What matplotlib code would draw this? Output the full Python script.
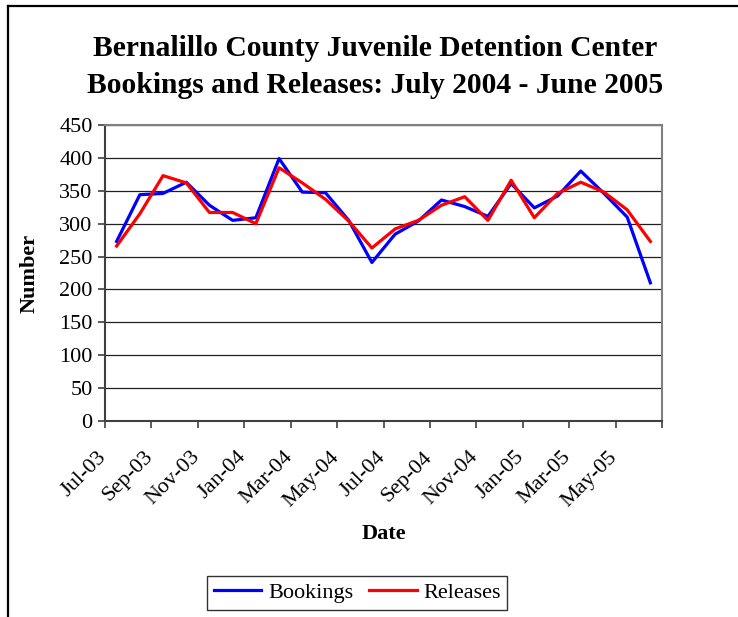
import matplotlib
matplotlib.use("Agg")
import matplotlib.pyplot as plt
import matplotlib.transforms as mtransforms
import numpy as np
from matplotlib.lines import Line2D

plt.rcParams["font.family"] = ["Liberation Serif", "DejaVu Serif"]

months = ["Jul-03", "Aug-03", "Sep-03", "Oct-03", "Nov-03", "Dec-03",
          "Jan-04", "Feb-04", "Mar-04", "Apr-04", "May-04", "Jun-04",
          "Jul-04", "Aug-04", "Sep-04", "Oct-04", "Nov-04", "Dec-04",
          "Jan-05", "Feb-05", "Mar-05", "Apr-05", "May-05", "Jun-05"]
bookings = [273, 344, 346, 363, 328, 305, 309, 399, 348, 347, 305, 241,
            284, 304, 336, 326, 311, 361, 324, 342, 380, 346, 310, 210]
releases = [266, 315, 373, 362, 317, 317, 300, 385, 362, 337, 304, 263,
            292, 305, 328, 341, 305, 366, 309, 346, 363, 348, 321, 273]
yticks = np.arange(0, 451, 50)

fig = plt.figure(figsize=(7.38, 6.17), dpi=100)
ax = fig.add_axes([0.1423, 0.3177, 0.7547, 0.4797])

# category axis: one slot per month, points in the middle of the slot
xpos = np.arange(len(months)) + 0.5
ax.plot(xpos, bookings, color="#0000FF", lw=2.3, label="Bookings", zorder=3)
ax.plot(xpos, releases, color="#FF0000", lw=2.3, label="Releases", zorder=4)

ax.set_xlim(0, len(months))
ax.set_ylim(0, 450)
ax.set_yticks(yticks)
ax.set_yticklabels([str(v) for v in yticks], fontsize=16)
ax.set_xticks(np.arange(0, len(months) + 1, 2))
ax.set_xticklabels(months[::2] + [""], fontsize=16, rotation=45,
                   ha="right", va="center", rotation_mode="anchor")
ax.tick_params(axis="x", length=5, width=1.2, color="#404040", pad=19)
ax.tick_params(axis="y", length=5, width=1.2, color="#404040", pad=4)
shift = mtransforms.ScaledTranslation(-1 / 100, 0, fig.dpi_scale_trans)
for lab in ax.get_xticklabels():
    lab.set_transform(lab.get_transform() + shift)

ax.grid(axis="y", color="#202020", lw=0.9)
ax.set_axisbelow(True)
for s in ["left", "bottom"]:
    ax.spines[s].set_color("#404040")
    ax.spines[s].set_linewidth(1.5)
for s in ["top", "right"]:
    ax.spines[s].set_color("#808080")
    ax.spines[s].set_linewidth(1.5)

ax.set_xlabel("Date", fontsize=16, fontweight="bold")
ax.xaxis.set_label_coords(0.5, -0.383)
ax.xaxis.label.set_va("center")
ax.set_ylabel("Number", fontsize=16, fontweight="bold")
ax.yaxis.set_label_coords(-0.136, 0.5)
ax.yaxis.label.set_va("center")

fig.text(0.508, 0.8915,
         "Bernalillo County Juvenile Detention Center\n"
         "Bookings and Releases: July 2004 - June 2005",
         ha="center", va="center", fontsize=21.3, fontweight="bold",
         linespacing=1.5)

leg = fig.legend(loc="center", bbox_to_anchor=(0.484, 0.039), ncol=2,
                 fontsize=16, frameon=True, fancybox=False,
                 handlelength=2.15, handletextpad=0.3, columnspacing=0.7,
                 borderpad=0.3, borderaxespad=0.2)
leg.get_frame().set_edgecolor("black")
leg.get_frame().set_linewidth(1.0)

# outer chart frame (top and left edges visible)
fw, fh = 738.0, 617.0
for xs, ys in [([8, 8], [617, 6]), ([8, 738], [6, 6])]:
    fig.add_artist(Line2D([x / fw for x in xs], [1 - y / fh for y in ys],
                          color="black", lw=1.6))

plt.savefig("out.png", dpi=100)
